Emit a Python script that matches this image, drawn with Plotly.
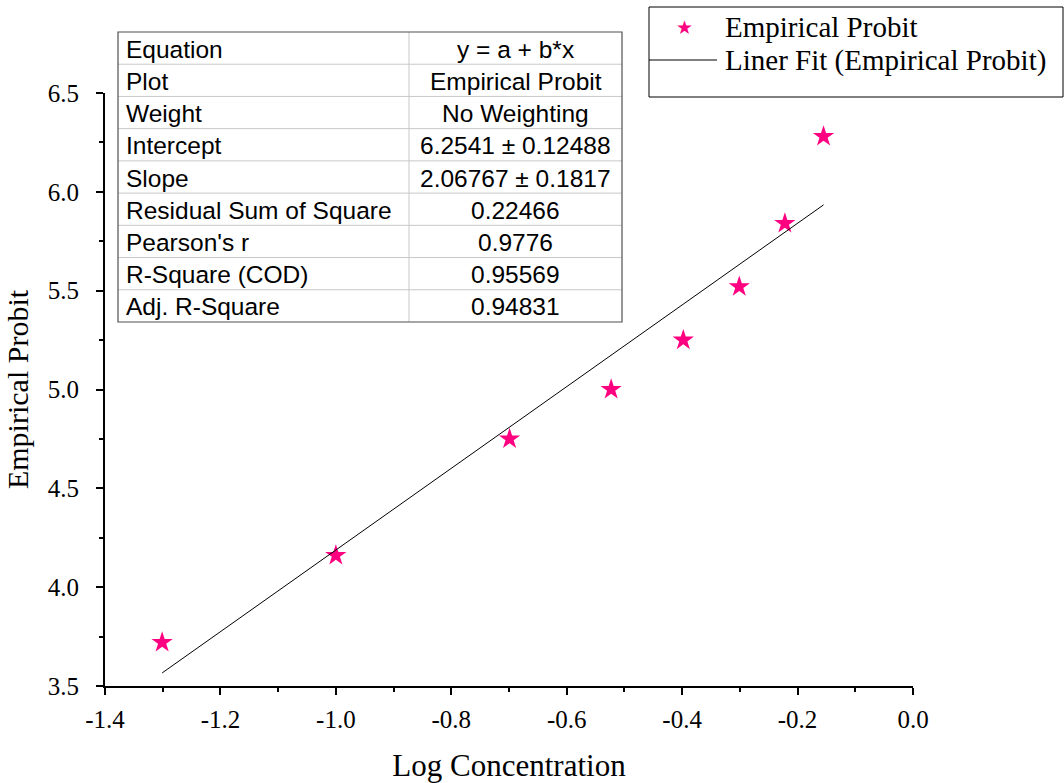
import plotly.graph_objects as go

# ---- data ----
log_conc = [-1.301, -1.0, -0.699, -0.523, -0.398, -0.301, -0.222, -0.155]
probit = [3.72, 4.16, 4.75, 5.00, 5.25, 5.52, 5.84, 6.28]
fit_x = [-1.301, -0.155]
fit_y = [3.566, 5.934]

x_ticks = [-1.4, -1.2, -1.0, -0.8, -0.6, -0.4, -0.2, 0.0]
x_tick_text = ["-1.4", "-1.2", "-1.0", "-0.8", "-0.6", "-0.4", "-0.2", "0.0"]
y_ticks = [3.5, 4.0, 4.5, 5.0, 5.5, 6.0, 6.5]
y_tick_text = ["3.5", "4.0", "4.5", "5.0", "5.5", "6.0", "6.5"]

table_labels = ["Equation", "Plot", "Weight", "Intercept", "Slope",
                "Residual Sum of Square", "Pearson's r", "R-Square (COD)", "Adj. R-Square"]
table_values = ["y = a + b*x", "Empirical Probit", "No Weighting", "6.2541 \u00b1 0.12488",
                "2.06767 \u00b1 0.1817", "0.22466", "0.9776", "0.95569", "0.94831"]

series_names = ["Empirical Probit", "Liner Fit (Empirical Probit)"]

# ---- layout geometry ----
W, H = 1064, 783
ML, MR, MT, MB = 105, 151, 93, 97
PW, PH = W - ML - MR, H - MT - MB


def px(x):
    return (x - ML) / PW


def py(y):
    return (H - MB - y) / PH


PINK = "#FF0080"
SERIF = "Liberation Serif, Times New Roman, serif"
SANS = "Liberation Sans, Arial, sans-serif"

fig = go.Figure()
fig.add_trace(go.Scatter(
    x=log_conc, y=probit, mode="markers", name=series_names[0],
    marker=dict(symbol="star", size=16, color=PINK, line=dict(width=0)),
    showlegend=False,
))
fig.add_trace(go.Scatter(
    x=fit_x, y=fit_y, mode="lines", name=series_names[1],
    line=dict(color="black", width=1), showlegend=False,
))

shapes = []
annotations = []

# ---- stats table ----
tx0, tx1, tcol = 118, 622, 409
ty0, ty1 = 32, 322
nrows = len(table_labels)
rh = (ty1 - ty0) / nrows
for i in range(1, nrows):
    yy = ty0 + i * rh
    shapes.append(dict(type="line", xref="paper", yref="paper",
                       x0=px(tx0), x1=px(tx1), y0=py(yy), y1=py(yy),
                       line=dict(color="#c8c8c8", width=1)))
shapes.append(dict(type="line", xref="paper", yref="paper",
                   x0=px(tcol), x1=px(tcol), y0=py(ty0), y1=py(ty1),
                   line=dict(color="#c8c8c8", width=1)))
shapes.append(dict(type="rect", xref="paper", yref="paper",
                   x0=px(tx0), x1=px(tx1), y0=py(ty0), y1=py(ty1),
                   line=dict(color="#505050", width=1.2), fillcolor="rgba(0,0,0,0)"))
for i, (lab, val) in enumerate(zip(table_labels, table_values)):
    yc = ty0 + (i + 0.5) * rh + 1
    annotations.append(dict(xref="paper", yref="paper", x=px(tx0 + 6), y=py(yc),
                             xanchor="left", yanchor="middle", text=lab, showarrow=False,
                             font=dict(family=SANS, size=24.5, color="black")))
    annotations.append(dict(xref="paper", yref="paper", x=px((tcol + tx1) / 2), y=py(yc),
                             xanchor="center", yanchor="middle", text=val, showarrow=False,
                             font=dict(family=SANS, size=24.5, color="black")))

# ---- legend box ----
shapes.append(dict(type="rect", xref="paper", yref="paper",
                   x0=px(649), x1=px(1063), y0=py(7), y1=py(97),
                   line=dict(color="black", width=1), fillcolor="rgba(0,0,0,0)"))
shapes.append(dict(type="line", xref="paper", yref="paper",
                   x0=px(649), x1=px(717), y0=py(60), y1=py(60),
                   line=dict(color="black", width=1)))
annotations.append(dict(xref="paper", yref="paper", x=px(684), y=py(27),
                         xanchor="center", yanchor="middle", text="\u2605", showarrow=False,
                         font=dict(family="DejaVu Sans", size=19, color=PINK)))
annotations.append(dict(xref="paper", yref="paper", x=px(723), y=py(27),
                         xanchor="left", yanchor="middle", text=series_names[0], showarrow=False,
                         font=dict(family=SERIF, size=29, color="black")))
annotations.append(dict(xref="paper", yref="paper", x=px(723), y=py(60),
                         xanchor="left", yanchor="middle", text=series_names[1], showarrow=False,
                         font=dict(family=SERIF, size=29, color="black")))

axis_common = dict(
    showline=True, linecolor="black", linewidth=2, mirror=False,
    ticks="outside", ticklen=7, tickwidth=2, tickcolor="black",
    showgrid=False, zeroline=False, automargin=False,
    tickfont=dict(family=SERIF, size=25, color="black"),
)

fig.update_layout(
    width=W, height=H,
    margin=dict(l=ML, r=MR, t=MT, b=MB),
    paper_bgcolor="white", plot_bgcolor="white",
    showlegend=False,
    xaxis=dict(range=[-1.4, 0.0], tickmode="array", tickvals=x_ticks, ticktext=x_tick_text,
               minor=dict(dtick=0.1, tick0=-1.4, ticklen=4, tickwidth=2, ticks="outside",
                          tickcolor="black"),
               title=dict(text="Log Concentration", font=dict(family=SERIF, size=31, color="black"),
                          standoff=22),
               ticklabelstandoff=3,
               **axis_common),
    yaxis=dict(range=[3.5, 6.5], tickmode="array", tickvals=y_ticks, ticktext=y_tick_text,
               minor=dict(dtick=0.25, tick0=3.5, ticklen=4, tickwidth=2, ticks="outside",
                          tickcolor="black"),
               title=dict(text="Empirical Probit", font=dict(family=SERIF, size=30, color="black"),
                          standoff=10),
               ticklabelstandoff=12,
               **axis_common),
    shapes=shapes,
    annotations=annotations,
)

fig.write_html("out.html")
